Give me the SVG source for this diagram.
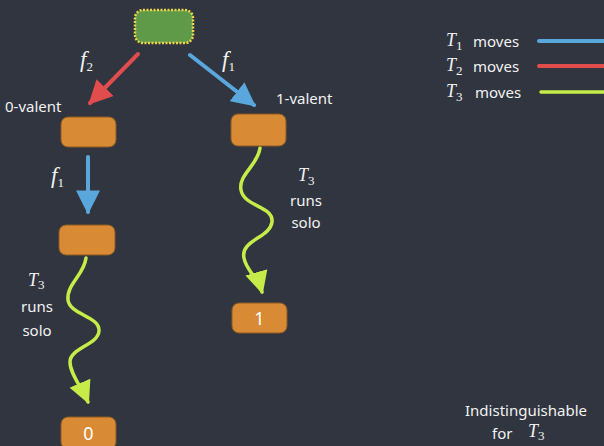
<svg xmlns="http://www.w3.org/2000/svg" width="604" height="446" viewBox="0 0 604 446">
<style>
.bg{fill:#30353f}
.st{fill:#d88a34;stroke:#8a5a22;stroke-width:1}
.lbl{font-family:"Noto Sans","Liberation Sans",sans-serif;fill:#f2f2f2;font-size:15px}
.math{font-family:"Liberation Serif",serif;font-style:italic;fill:#f2f2f2}
.sub{font-family:"Liberation Serif",serif;font-style:normal;fill:#f2f2f2;font-size:13px}
.num{font-family:"Noto Sans","Liberation Sans",sans-serif;fill:#ffffff;font-size:18px;text-anchor:middle}
.blue{stroke:#5aa7dd;stroke-width:4;fill:none;stroke-linecap:round}
.red{stroke:#e14c4c;stroke-width:4;fill:none;stroke-linecap:round}
.green{stroke:#c6ec4a;stroke-width:3.5;fill:none;stroke-linecap:round}
</style>
<defs>
<marker id="ab" viewBox="0 0 10 10" refX="9" refY="5" markerWidth="6" markerHeight="6" markerUnits="strokeWidth" orient="auto"><path d="M0,0 L10,5 L0,10 z" fill="#5aa7dd"/></marker>
<marker id="ar" viewBox="0 0 10 10" refX="9" refY="5" markerWidth="6" markerHeight="6" markerUnits="strokeWidth" orient="auto"><path d="M0,0 L10,5 L0,10 z" fill="#e14c4c"/></marker>
<marker id="ag" viewBox="0 0 10 10" refX="9" refY="5" markerWidth="6.5" markerHeight="6.5" markerUnits="strokeWidth" orient="auto"><path d="M0,0 L10,5 L0,10 z" fill="#c6ec4a"/></marker>
</defs>
<rect class="bg" x="0" y="0" width="604" height="446"/>

<g id="connectors">
<path class="red" d="M138,54 L90,103" marker-end="url(#ar)"/>
<path class="blue" d="M190,55 L254,105" marker-end="url(#ab)"/>
<path class="blue" d="M88,157 L88,212" marker-end="url(#ab)"/>
<path class="green" d="M260,148 C258,165 238,175 241,190 C244,207 274,206 272,222 C270,238 240,240 244,258 C246,270 258,278 262,292" marker-end="url(#ag)"/>
<path class="green" d="M86,258 C84,275 66,285 68,300 C70,315 100,316 99,331 C98,345 70,348 70,362 C70,374 82,388 88,402" marker-end="url(#ag)"/>
</g>

<g id="start">
<rect x="135" y="10" width="58" height="33" rx="8" fill="#5f9a48" stroke="#f0d54a" stroke-width="2.5" stroke-dasharray="2 1.5"/>
</g>
<g id="n0valent">
<rect class="st" x="61" y="117" width="55" height="30" rx="7"/>
<text class="lbl" x="5" y="112" font-size="14">0-valent</text>
</g>
<g id="n1valent">
<rect class="st" x="231" y="114" width="55" height="32" rx="7"/>
<text class="lbl" x="276" y="104" font-size="14">1-valent</text>
</g>
<g id="nmid">
<rect class="st" x="59" y="225" width="56" height="30" rx="7"/>
</g>
<g id="n1">
<rect class="st" x="232" y="303" width="55" height="30" rx="7"/>
<text class="num" x="259.5" y="325">1</text>
</g>
<g id="n0">
<rect class="st" x="61" y="417" width="55" height="32" rx="7"/>
<text class="num" x="88.5" y="440">0</text>
</g>

<g id="labels">
<text class="math" x="80" y="67" font-size="23">f<tspan class="sub" dy="4">2</tspan></text>
<text class="math" x="222" y="67" font-size="23">f<tspan class="sub" dy="4">1</tspan></text>
<text class="math" x="51" y="183" font-size="23">f<tspan class="sub" dy="4">1</tspan></text>
<text class="math" x="298" y="181" font-size="18">T<tspan class="sub" dy="4">3</tspan></text>
<text class="lbl" x="306" y="206" text-anchor="middle" font-size="16">runs</text>
<text class="lbl" x="306" y="228" text-anchor="middle" font-size="16">solo</text>
<text class="math" x="28" y="286" font-size="18">T<tspan class="sub" dy="3">3</tspan></text>
<text class="lbl" x="37" y="312" text-anchor="middle" font-size="16">runs</text>
<text class="lbl" x="37" y="336" text-anchor="middle" font-size="16">solo</text>
</g>

<g id="legend">
<text class="math" x="446" y="46" font-size="18">T<tspan class="sub" dy="4">1</tspan></text>
<text class="lbl" x="473" y="47" font-size="16">moves</text>
<text class="math" x="446" y="71" font-size="18">T<tspan class="sub" dy="4">2</tspan></text>
<text class="lbl" x="473" y="72" font-size="16">moves</text>
<text class="math" x="446" y="97" font-size="18">T<tspan class="sub" dy="4">3</tspan></text>
<text class="lbl" x="475" y="98" font-size="16">moves</text>
<line class="blue" x1="539" y1="41" x2="604" y2="41" stroke-width="5"/>
<line class="red" x1="539" y1="66" x2="604" y2="66" stroke-width="5"/>
<line class="green" x1="541" y1="92" x2="604" y2="92" stroke-width="5"/>
</g>

<g id="note">
<text class="lbl" x="526" y="416" text-anchor="middle" font-size="17">Indistinguishable</text>
<text class="lbl" x="492" y="439" font-size="17">for</text>
<text class="math" x="528" y="437" font-size="18">T<tspan class="sub" dy="3">3</tspan></text>
</g>
</svg>
